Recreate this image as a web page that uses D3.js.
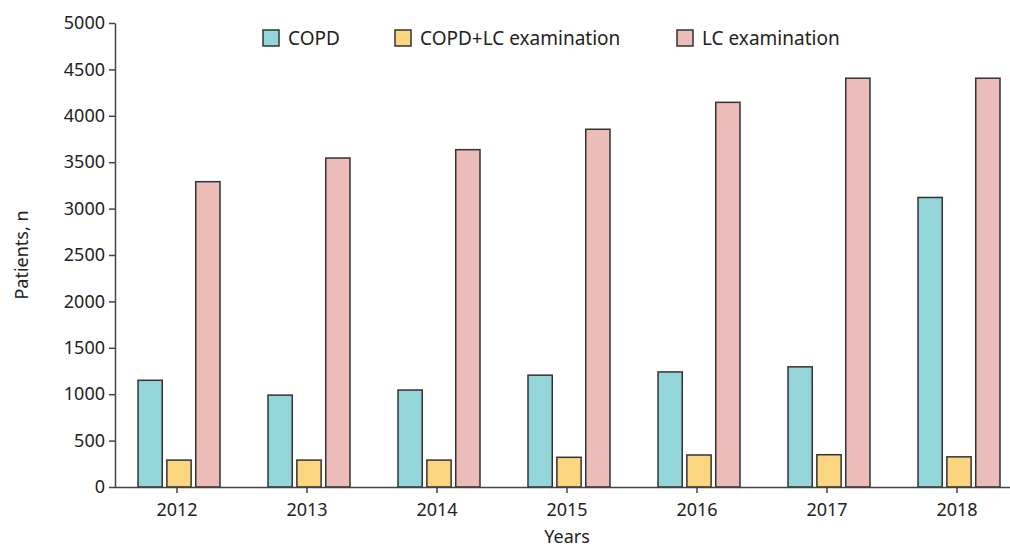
<!DOCTYPE html>
<html>
<head>
<meta charset="utf-8">
<script src="https://cdn.jsdelivr.net/npm/d3@7"></script>
<style>
  body { margin: 0; background: #fff; }
  text { font-family: "Source Sans Pro", "Noto Sans", sans-serif; fill: #222; }
</style>
</head>
<body>
<svg id="chart"></svg>
<script>
const WIDTH = 1010;
const HEIGHT = 550;

const years = ["2012", "2013", "2014", "2015", "2016", "2017", "2018"];
const seriesNames = ["COPD", "COPD+LC examination", "LC examination"];
const copd = [1150, 990, 1045, 1205, 1240, 1295, 3120];
const copdLc = [290, 290, 290, 320, 345, 348, 325];
const lcExam = [3290, 3545, 3635, 3855, 4145, 4405, 4405];
const yTicks = [0, 500, 1000, 1500, 2000, 2500, 3000, 3500, 4000, 4500, 5000];
const colors = ["#93d5d9", "#fcd581", "#ecbdb8"];

function main(){
    var svg = d3.select("#chart")
        .attr("width", WIDTH)
        .attr("height", HEIGHT);

    var x = d3.scaleBand().domain(years).range([112, 1022]);
    var sub = d3.scaleBand().domain(seriesNames).range([-39, 43]).paddingInner(0.16);
    var y = d3.scaleLinear().domain([0, 5000]).range([487, 23]);

    var rows = years.map((yr, i) => ({year: yr, values: [copd[i], copdLc[i], lcExam[i]]}));

    // bars
    svg.append("g").selectAll("g")
        .data(rows)
        .enter()
        .append("g")
        .attr("transform", d => "translate(" + (x(d.year) + x.bandwidth() / 2) + ",0)")
        .selectAll("rect")
        .data(d => d.values.map((v, j) => ({name: seriesNames[j], value: v, color: colors[j]})))
        .enter()
        .append("rect")
        .attr("x", d => sub(d.name))
        .attr("width", sub.bandwidth())
        .attr("y", d => y(d.value))
        .attr("height", d => y(0) - y(d.value))
        .attr("fill", d => d.color)
        .attr("stroke", "#333")
        .attr("stroke-width", 1.5);

    // y axis
    var yAxis = svg.append("g")
        .attr("transform", "translate(115,0)")
        .call(d3.axisLeft(y).tickValues(yTicks).tickSize(6).tickSizeOuter(0).tickFormat(d3.format("d")));
    yAxis.selectAll("text").attr("font-size", 18).attr("dx", "-1");

    // x axis
    var xAxis = svg.append("g")
        .attr("transform", "translate(0,487)")
        .call(d3.axisBottom(x).tickSize(6).tickSizeOuter(0));
    xAxis.select(".domain").attr("d", "M115,0.5H1010");
    xAxis.selectAll("text").attr("font-size", 18).attr("dy", "1.1em");

    svg.selectAll(".domain, .tick line").attr("stroke", "#444").attr("stroke-width", 1.5);
    svg.selectAll(".tick text").attr("fill", "#222");

    // titles
    svg.append("text")
        .attr("x", 567).attr("y", 543)
        .attr("text-anchor", "middle")
        .attr("font-size", 18)
        .text("Years");
    svg.append("text")
        .attr("transform", "translate(28,255) rotate(-90)")
        .attr("text-anchor", "middle")
        .attr("font-size", 18)
        .text("Patients, n");

    // legend
    var legendX = [263, 395, 677];
    var legend = svg.append("g").selectAll("g")
        .data(seriesNames)
        .enter()
        .append("g")
        .attr("transform", (d, i) => "translate(" + legendX[i] + ",30)");
    legend.append("rect")
        .attr("width", 16).attr("height", 16)
        .attr("fill", (d, i) => colors[i])
        .attr("stroke", "#333")
        .attr("stroke-width", 1.5);
    legend.append("text")
        .attr("x", 25).attr("y", 15)
        .attr("font-size", 19)
        .text(d => d);
}

main();
</script>
</body>
</html>
